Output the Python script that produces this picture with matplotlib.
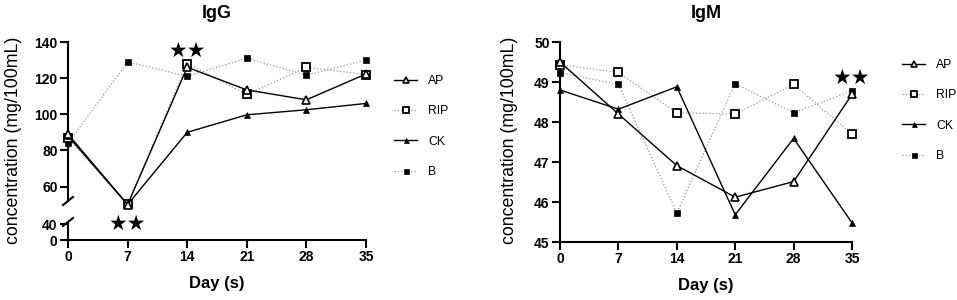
import matplotlib
matplotlib.use("Agg")
import matplotlib.pyplot as plt
from matplotlib.lines import Line2D

plt.rcParams['font.family'] = ['Liberation Sans', 'DejaVu Sans']

days = [0, 7, 14, 21, 28, 35]
groups = ["AP", "RIP", "CK", "B"]

igg_ap = [89, 50, 126, 113.5, 108, 122.3]
igg_rip = [87, 50.5, 128, 111, 126, 122]
igg_ck = [88, 50, 90, 99.7, 102.5, 106]
igg_b = [84, 129, 121, 131, 121.6, 130]

igm_ap = [49.5, 48.2, 46.91, 46.12, 46.51, 48.69]
igm_rip = [49.43, 49.24, 48.23, 48.2, 48.94, 47.7]
igm_ck = [48.8, 48.32, 48.88, 45.68, 47.59, 45.48]
igm_b = [49.23, 48.94, 45.72, 48.96, 48.23, 48.78]

igg_ticks_top = [60, 80, 100, 120, 140]
igg_ticks_bot = [0, 40]
igm_ticks = [45, 46, 47, 48, 49, 50]

GRAY = "#999999"
styles = {
    "AP": dict(color="black", lw=1.0, ls="-", marker="^", ms=5.5, mfc="white", mec="black", mew=1.2),
    "RIP": dict(color=GRAY, lw=0.9, ls=":", marker="s", ms=5.5, mfc="white", mec="black", mew=1.3),
    "CK": dict(color="black", lw=1.0, ls="-", marker="^", ms=4.2, mfc="black", mec="black", mew=0.5),
    "B": dict(color=GRAY, lw=0.9, ls=":", marker="s", ms=4.0, mfc="black", mec="black", mew=0.5),
}
legend_ms = {"AP": 4.3, "RIP": 4.5, "CK": 3.6, "B": 3.6}

W, H = 957, 300
fig = plt.figure(figsize=(W / 100, H / 100), dpi=100)


def frac(x0, y0, x1, y1):
    return [x0 / W, 1 - y1 / H, (x1 - x0) / W, (y1 - y0) / H]


def style_axis(ax):
    for s in ["top", "right"]:
        ax.spines[s].set_visible(False)
    for s in ["left", "bottom"]:
        ax.spines[s].set_linewidth(1.5)
    ax.tick_params(width=1.5, length=6, labelsize=10, pad=1.5)
    for lab in ax.get_xticklabels() + ax.get_yticklabels():
        lab.set_fontweight("bold")


def add_legend(x, y):
    handles = []
    for g in groups:
        st = dict(styles[g])
        st["ms"] = legend_ms[g]
        handles.append(Line2D([], [], **st))
    fig.legend(handles, groups, loc="upper left", bbox_to_anchor=(x / W, 1 - y / H),
               frameon=False, fontsize=8.8, handlelength=1.9, handletextpad=0.9,
               labelspacing=1.5, borderaxespad=0, borderpad=0)


# ---------- IgG (broken axis) ----------
ax_top = fig.add_axes(frac(68, 42, 366, 201))
ax_bot = fig.add_axes(frac(68, 222, 366, 240))
series_igg = {"AP": igg_ap, "RIP": igg_rip, "CK": igg_ck, "B": igg_b}
for g in ["B", "RIP", "CK", "AP"]:
    ax_top.plot(days, series_igg[g], clip_on=False, zorder=3, **styles[g])
ax_top.set_xlim(0, 35)
ax_top.set_ylim(52, 140)
ax_top.set_yticks(igg_ticks_top)
ax_top.set_xticks([])
ax_top.spines["bottom"].set_visible(False)
style_axis(ax_top)
ax_top.set_title("IgG", fontsize=13, fontweight="bold", pad=17)

ax_bot.set_xlim(0, 35)
ax_bot.set_ylim(0, 45)
ax_bot.set_yticks(igg_ticks_bot)
ax_bot.set_xticks(days)
style_axis(ax_bot)
ax_bot.set_xlabel("Day (s)", fontsize=12, fontweight="bold", labelpad=8)
ax_bot.patch.set_alpha(0)

# break marks
for yb in (201, 222):
    fig.add_artist(Line2D([(68 - 5) / W, (68 + 5) / W], [1 - (yb + 4) / H, 1 - (yb - 4) / H],
                          color="black", lw=1.5))

fig.text(14 / W, 1 - 140 / H, "concentration (mg/100mL)", rotation=90, fontsize=12.8,
         ha="center", va="center")
ax_bot.text(7, 40, "★★", fontsize=15, ha="center", va="center", family=["DejaVu Sans"])
ax_top.text(14.0, 134.8, "★★", fontsize=15, ha="center", va="center", family=["DejaVu Sans"])

add_legend(394, 75)

# ---------- IgM ----------
ax2 = fig.add_axes(frac(560, 42, 852, 242))
series_igm = {"AP": igm_ap, "RIP": igm_rip, "CK": igm_ck, "B": igm_b}
for g in ["B", "RIP", "CK", "AP"]:
    ax2.plot(days, series_igm[g], clip_on=False, zorder=3, **styles[g])
ax2.set_xlim(0, 35)
ax2.set_ylim(45, 50)
ax2.set_yticks(igm_ticks)
ax2.set_xticks(days)
style_axis(ax2)
ax2.set_title("IgM", fontsize=13, fontweight="bold", pad=17)
ax2.set_xlabel("Day (s)", fontsize=12, fontweight="bold", labelpad=8)
fig.text(510 / W, 1 - 140 / H, "concentration (mg/100mL)", rotation=90, fontsize=12.8,
         ha="center", va="center")
ax2.text(34.9, 49.1, "★★", fontsize=15, ha="center", va="center", family=["DejaVu Sans"])

add_legend(902, 59)

fig.savefig("out.png", dpi=100)
